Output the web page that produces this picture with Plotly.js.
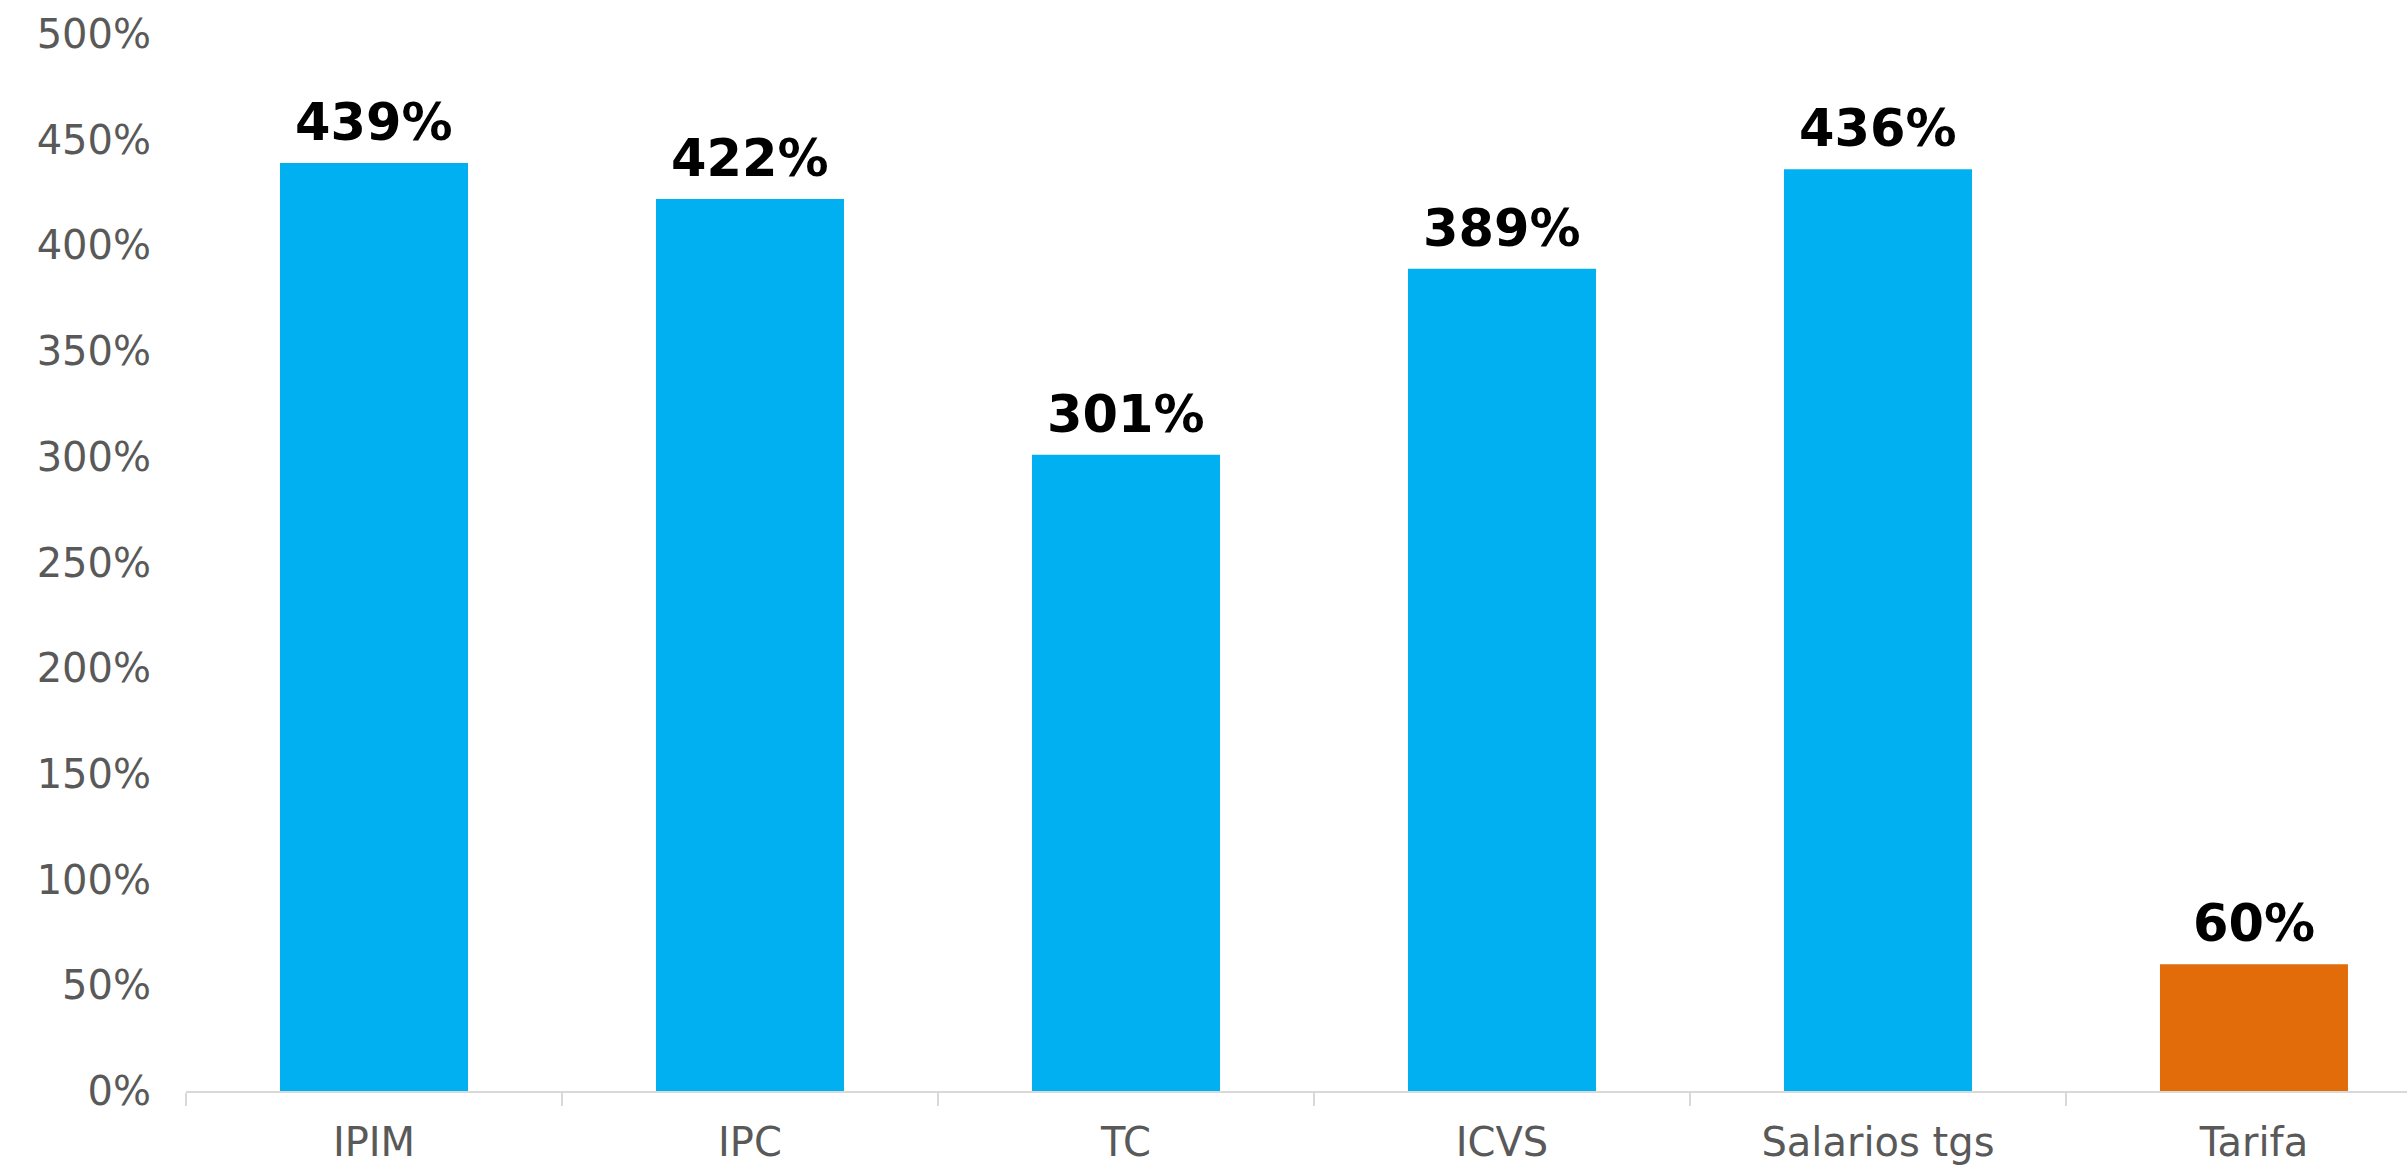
<!DOCTYPE html>
<html>
<head>
<meta charset="utf-8">
<script src="https://cdn.plot.ly/plotly-3.0.1.min.js"></script>
<style>html,body{margin:0;padding:0;background:#fff;}#chart{width:2407px;height:1167px;}</style>
</head>
<body>
<div id="chart"></div>
<script>
const categories = ["IPIM", "IPC", "TC", "ICVS", "Salarios tgs", "Tarifa"];
const values = [439, 422, 301, 389, 436, 60];
const barColors = ["#00B0F0", "#00B0F0", "#00B0F0", "#00B0F0", "#00B0F0", "#E36C0A"];
const yTickVals = [0, 50, 100, 150, 200, 250, 300, 350, 400, 450, 500];
const yTickText = yTickVals.map(v => v + "%");

const FONT = "Verdana, 'DejaVu Sans', sans-serif";

const trace = {
  type: "bar",
  x: categories,
  y: values,
  marker: {color: barColors, line: {width: 0}},
  hoverinfo: "none"
};

const annotations = categories.map((c, i) => ({
  x: c,
  y: values[i],
  xref: "x",
  yref: "y",
  text: "<b>" + values[i] + "%</b>",
  showarrow: false,
  xanchor: "center",
  yanchor: "bottom",
  yshift: 9,
  font: {family: FONT, size: 51, color: "#000000"}
}));

const layout = {
  width: 2407,
  height: 1167,
  margin: {l: 186, r: 0, t: 34, b: 76},
  paper_bgcolor: "#ffffff",
  plot_bgcolor: "#ffffff",
  bargap: 0.5,
  showlegend: false,
  font: {family: FONT, color: "#595959"},
  annotations: annotations,
  xaxis: {
    type: "category",
    range: [-0.5, 5.407],
    showline: true,
    linecolor: "#D9D9D9",
    linewidth: 2,
    ticks: "outside",
    tickson: "boundaries",
    ticklen: 13,
    tickcolor: "#D9D9D9",
    tickwidth: 2,
    showgrid: false,
    zeroline: false,
    tickfont: {family: FONT, size: 40, color: "#595959"},
    ticklabelstandoff: 15
  },
  yaxis: {
    range: [0, 500],
    tickvals: yTickVals,
    ticktext: yTickText,
    showline: false,
    showgrid: false,
    zeroline: false,
    ticks: "",
    tickfont: {family: FONT, size: 40, color: "#595959"},
    ticklabelstandoff: 34
  }
};

Plotly.newPlot("chart", [trace], layout, {staticPlot: true, displayModeBar: false});
</script>
</body>
</html>
